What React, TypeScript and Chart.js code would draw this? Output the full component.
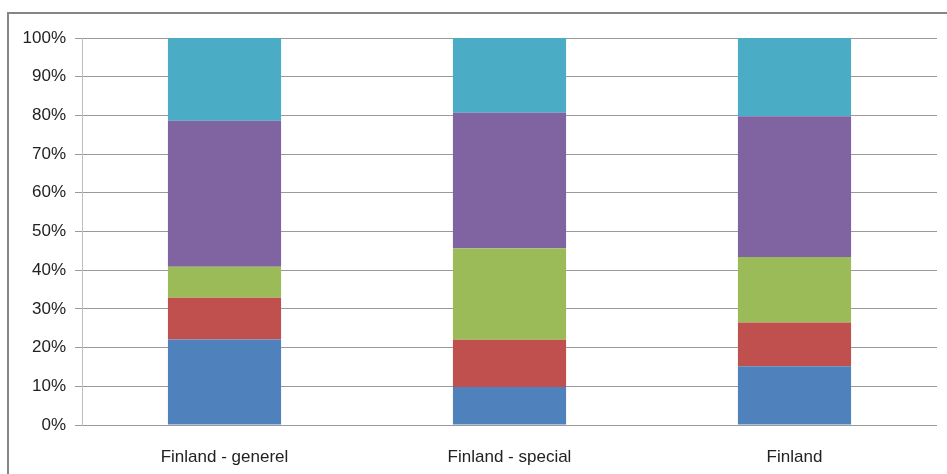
import React, { useEffect, useRef } from "react";
import { Chart, registerables } from "chart.js";

Chart.register(...registerables);

const categories = ["Finland - generel", "Finland - special", "Finland"];
const series1 = [22.1, 9.8, 15.2];
const series2 = [10.8, 12.2, 11.3];
const series3 = [8.0, 23.7, 16.9];
const series4 = [37.7, 35.0, 36.4];
const series5 = [21.4, 19.3, 20.2];
const seriesNames = ["Serie 1", "Serie 2", "Serie 3", "Serie 4", "Serie 5"];
const colors = ["#4F81BD", "#C0504D", "#9BBB59", "#8064A2", "#4BACC6"];

const FONT = "'Liberation Sans Narrow', 'Arial Narrow', 'Liberation Sans', sans-serif";

const frame = {
  id: "frame",
  beforeDraw(chart: any) {
    const ctx = chart.ctx;
    ctx.save();
    ctx.strokeStyle = "#868686";
    ctx.lineWidth = 2;
    ctx.beginPath();
    ctx.moveTo(8, 480);
    ctx.lineTo(8, 13);
    ctx.lineTo(960, 13);
    ctx.stroke();
    ctx.restore();
  },
};

export default function App() {
  const ref = useRef<HTMLCanvasElement | null>(null);
  useEffect(() => {
    const data = [series1, series2, series3, series4, series5];
    const chart = new Chart(ref.current as HTMLCanvasElement, {
      type: "bar",
      data: {
        labels: categories,
        datasets: data.map((d, i) => ({
          label: seriesNames[i],
          data: d,
          backgroundColor: colors[i],
          borderWidth: 0,
          barPercentage: 0.397,
          categoryPercentage: 1,
        })),
      },
      options: {
        animation: false,
        responsive: false,
        maintainAspectRatio: false,
        layout: { padding: { left: 0, right: 10, top: 38, bottom: 0 } },
        plugins: { legend: { display: false }, tooltip: { enabled: false } },
        scales: {
          x: {
            stacked: true,
            grid: { display: false },
            border: { display: false },
            ticks: { color: "#222", font: { family: FONT, size: 17 }, padding: 14 },
            afterFit: (s: any) => {
              s.height = 49;
            },
          },
          y: {
            stacked: true,
            min: 0,
            max: 100,
            ticks: {
              stepSize: 10,
              color: "#222",
              font: { family: FONT, size: 17 },
              padding: 9,
              callback: (v: any) => v + "%",
            },
            grid: { color: "#9a9a9a", lineWidth: 1, tickLength: 7 },
            border: { display: true, color: "#bdbdbd" },
            afterFit: (s: any) => {
              s.width = 82;
            },
          },
        },
      },
      plugins: [frame],
    });
    return () => chart.destroy();
  }, []);
  return (
    <div style={{ position: "absolute", left: 0, top: 0, width: 947, height: 474, background: "#fff" }}>
      <canvas ref={ref} width={947} height={474} style={{ display: "block" }} />
    </div>
  );
}
